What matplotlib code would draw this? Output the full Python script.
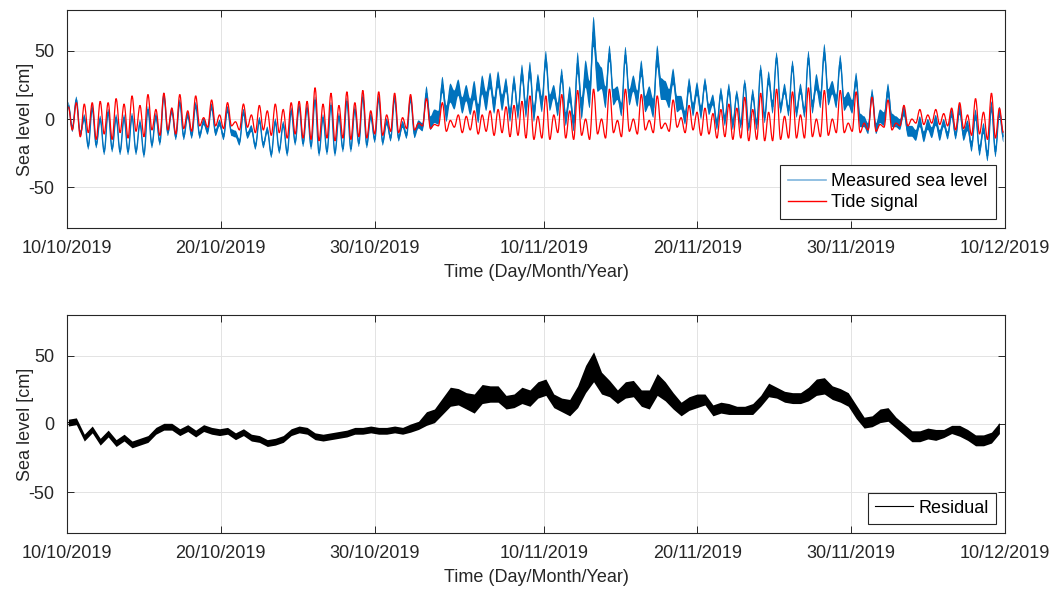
import numpy as np
import matplotlib
matplotlib.use("Agg")
import matplotlib.pyplot as plt
import matplotlib.dates as mdates
from matplotlib.path import Path
from matplotlib.patches import PathPatch

plt.rcParams['font.family'] = ['Liberation Sans', 'DejaVu Sans']
plt.rcParams['axes.unicode_minus'] = False

# ---------------- data ----------------
start_date = "2019-10-10"
end_date = "2019-12-10"
first_high_day = 0.09        # days after start of first tidal high
cycle_days = 0.5175          # semi-diurnal tidal cycle length (days)

tide_high = [9, 12, 11, 12, 13, 12, 15, 11, 17, 10, 18, 7, 19, 8, 18, 6, 17, 1, 14, 3,
             12, -2, 11, 3, 10, 6, 11, 7, 12, 13,
             13, 23, 11, 19, 10, 20, 12, 21, 6, 20, 3, 19, 1, 18, -3, 15, -4, 12, -1, 3,
             2, 6, 3, 6, 7, 9, 10, 13, 17,
             2, 17, 3, 18, 6, 21, 0, 22, 0, 22, -1, 22, 0, 18, -1, 17, -3, 14, 1, 10,
             5, 8, 4, 7, 11, 8, 16, 7, 19,
             5, 22, 2, 20, 3, 23, 0, 21, 0, 21, -3, 20, -3, 16, -4, 14, -3, 10, 0, 7,
             3, 7, 4, 8, 12, 3, 15, 5, 19, 8]
tide_low = [-8, -13, -10, -15, -11, -15, -10, -14, -9, -13, -8, -12, -8, -11, -7, -9, -5, -6, -5, -7,
            -5, -8, -6, -10, -8, -12, -10, -14, -11, -14,
            -15, -16, -14, -16, -14, -15, -13, -14, -11, -12, -9, -10, -7, -8, -5, -7, -5, -9, -6, -10,
            -8, -11, -9, -12, -10, -13, -12, -14, -15,
            -14, -15, -10, -14, -15, -12, -15, -11, -14, -10, -13, -9, -11, -8, -10, -7, -9, -6, -10, -8,
            -12, -11, -14, -13, -15, -14, -16, -15, -16,
            -16, -15, -14, -14, -14, -13, -13, -12, -10, -10, -9, -10, -8, -9, -6, -8, -5, -5, -3, -4,
            -3, -4, -5, -8, -7, -12, -11, -15, -14, -10]
residual = [1, 2, -10, -4, -13, -7, -14, -10, -15, -13, -11, -5, -2, -2, -6, -3, -7, -3, -5, -6,
            -5, -9, -6, -10, -11, -14, -13, -11, -6, -4,
            -5, -9, -10, -9, -8, -7, -5, -5, -4, -5, -5, -4, -5, -3, -1, 4, 6, 13, 20, 20,
            17, 15, 22, 22, 22, 16, 17, 21, 19,
            25, 27, 17, 14, 12, 20, 33, 42, 30, 26, 20, 25, 26, 19, 18, 29, 24, 17, 11, 15,
            17, 18, 10, 12, 11, 10, 10, 11, 17,
            25, 23, 20, 19, 19, 22, 27, 28, 23, 21, 18, 9, 1, 2, 6, 7, 1, -4, -9, -9,
            -7, -8, -7, -4, -5, -8, -12, -12, -10, -3]
# half-width of the high-frequency (seiche) noise band around the residual, per cycle
noise_halfwidth = [2.5, 2.5, 2.5, 2.5, 2.5, 2.5, 2.5, 2.5, 2.5, 2.5, 2.5, 2.5, 2.5, 2.5, 2.5,
                   2.5, 2.5, 2.5, 2.5, 2.5, 2.5, 2.5, 2.5, 2.5, 2.5, 2.5, 2.5, 2.5, 2.5, 2.5,
                   2.5, 2.5, 2.5, 2.5, 2.5, 2.5, 2.5, 2.5, 2.5, 2.5, 2.5, 2.5, 2.5, 3, 3,
                   5, 5, 6, 7, 6, 6, 7, 7, 6, 6, 5, 5, 6, 6,
                   6, 6, 5, 5, 6, 8, 10, 11, 8, 6, 5, 6, 6, 6, 7, 8, 7, 6, 5, 5,
                   5, 4, 4, 4, 4, 3, 3, 4, 4,
                   5, 4, 4, 4, 4, 5, 6, 6, 5, 5, 5, 5, 4, 4, 5, 5, 4, 4, 4, 4,
                   4, 4, 3, 3, 4, 4, 4, 4, 4, 4]

tick_labels = ["10/10/2019", "20/10/2019", "30/10/2019", "10/11/2019",
               "20/11/2019", "30/11/2019", "10/12/2019"]
ylim = (-80, 80)
yticks = [-50, 0, 50]

# ---------------- build series ----------------
t0 = mdates.date2num(np.datetime64(start_date))
t1 = mdates.date2num(np.datetime64(end_date))
n = len(tide_high)
k = np.arange(n)
day_high = first_high_day + cycle_days * k
day_low = day_high + cycle_days / 2.0

x_all = np.empty(2 * n)
x_all[0::2] = t0 + day_high
x_all[1::2] = t0 + day_low
tide = np.empty(2 * n)
tide[0::2] = tide_high
tide[1::2] = tide_low
res2 = np.repeat(np.array(residual, float), 2)
hw2 = np.repeat(np.array(noise_halfwidth, float), 2)
measured = tide + res2

xh = t0 + day_high
res = np.array(residual, float)
hw = np.array(noise_halfwidth, float)

tick_x = [mdates.date2num(np.datetime64("%s-%s-%s" % (s[6:], s[3:5], s[0:2])))
          for s in tick_labels]


def smooth_verts(x, y):
    """Cubic Bezier pieces with horizontal tangents at each extreme (tidal shape)."""
    verts = [(x[0], y[0])]
    codes = [Path.MOVETO]
    for i in range(len(x) - 1):
        dx = x[i + 1] - x[i]
        verts += [(x[i] + 0.3642 * dx, y[i]), (x[i + 1] - 0.3642 * dx, y[i + 1]),
                  (x[i + 1], y[i + 1])]
        codes += [Path.CURVE4] * 3
    return verts, codes


def smooth_line(ax, x, y, **kw):
    v, c = smooth_verts(x, y)
    ax.add_patch(PathPatch(Path(v, c), facecolor="none", **kw))


def smooth_band(ax, x, lo, hi, **kw):
    vu, cu = smooth_verts(x, hi)
    vl, cl = smooth_verts(x[::-1], lo[::-1])
    cl[0] = Path.LINETO
    v = vu + vl + [vu[0]]
    c = cu + cl + [Path.CLOSEPOLY]
    ax.add_patch(PathPatch(Path(v, c), lw=0, **kw))


blue = "#0072BD"
axcol = "#262626"

fig = plt.figure(figsize=(10.6, 5.94), dpi=100)
ax1 = fig.add_axes([0.0632, 0.6162, 0.8849, 0.3668])
ax2 = fig.add_axes([0.0632, 0.1027, 0.8849, 0.3670])

smooth_band(ax1, x_all, measured - hw2, measured + hw2, facecolor=blue, zorder=2)
smooth_line(ax1, x_all, measured, edgecolor=blue, lw=1.0, zorder=3)
smooth_line(ax1, x_all, tide, edgecolor="#FF0000", lw=0.9, zorder=4)
l1, = ax1.plot([], [], color="#7FB5DD", lw=1.2, label="Measured sea level")
l2, = ax1.plot([], [], color="#FF0000", lw=1.0, label="Tide signal")

ax2.fill_between(xh, res - hw, res + hw, color="black", lw=0, zorder=2)
l3, = ax2.plot(xh, res, color="black", lw=0.8, zorder=3, label="Residual")

for ax in (ax1, ax2):
    ax.set_xlim(t0, t1)
    ax.set_ylim(*ylim)
    ax.set_yticks(yticks)
    ax.set_xticks(tick_x)
    ax.set_xticklabels(tick_labels)
    ax.grid(True, color="#E3E3E3", lw=0.7, zorder=0)
    ax.set_axisbelow(True)
    ax.tick_params(direction="in", length=5, width=0.7, colors=axcol, labelsize=13,
                   top=True, right=True, pad=9, labelcolor=axcol)
    for sp in ax.spines.values():
        sp.set_color(axcol)
        sp.set_linewidth(0.8)
    ax.set_ylabel("Sea level [cm]", fontsize=13, color=axcol, labelpad=-4)
    ax.set_xlabel("Time (Day/Month/Year)", fontsize=13, color=axcol, labelpad=5)

leg1 = ax1.legend(handles=[l1, l2], loc="lower right", fontsize=13, fancybox=False,
                  edgecolor=axcol, framealpha=1, handlelength=2.1, borderaxespad=0.5,
                  borderpad=0.45, labelspacing=0.2, handletextpad=0.3)
leg2 = ax2.legend(handles=[l3], loc="lower right", fontsize=13, fancybox=False,
                  edgecolor=axcol, framealpha=1, handlelength=2.1, borderaxespad=0.5,
                  borderpad=0.4, handletextpad=0.3)
for leg in (leg1, leg2):
    leg.get_frame().set_linewidth(0.8)

fig.savefig("out.png", dpi=100)
